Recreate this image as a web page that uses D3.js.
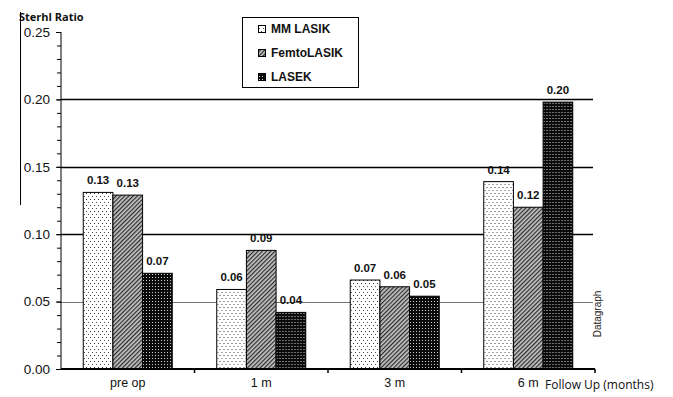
<!DOCTYPE html>
<html>
<head>
<meta charset="utf-8">
<script src="https://cdn.jsdelivr.net/npm/d3@7/dist/d3.min.js"></script>
<style>
  html, body { margin: 0; padding: 0; background: #fff; }
  svg { display: block; }
</style>
</head>
<body>
<svg id="chart" width="673" height="397"></svg>
<script>
// Follow-up time points
const categories = ["pre op", "1 m", "3 m", "6 m"];
// Treatment groups
const series = ["MM LASIK", "FemtoLASIK", "LASEK"];
// Mean Strehl ratio per group at each time point
const mmLasik    = [0.131, 0.059, 0.066, 0.139];
const femtoLasik = [0.129, 0.088, 0.061, 0.120];
const lasek      = [0.071, 0.042, 0.054, 0.198];
const seriesValues = [mmLasik, femtoLasik, lasek];
// Y axis ticks
const majorTicks = [0.00, 0.05, 0.10, 0.15, 0.20, 0.25];
const minorTicks = d3.range(0, 26).map(i => i / 100);
const gridTicks = [0.05, 0.10, 0.15, 0.20];

const svg = d3.select("#chart");
const plotLeft = 61, plotRight = 595, plotTop = 32, plotBottom = 369;

const y = d3.scaleLinear().domain([0, 0.25]).range([plotBottom, plotTop]);
const x0 = d3.scaleBand().domain(categories).range([plotLeft, plotRight]).padding(0);
const x1 = d3.scaleBand().domain(series).range([0, x0.bandwidth()])
  .paddingInner(0).paddingOuter(0.75);

// Fill patterns
const defs = svg.append("defs");
// sparse dots on white
const pDots = defs.append("pattern").attr("id", "pat-mm")
  .attr("patternUnits", "userSpaceOnUse").attr("width", 4).attr("height", 6);
pDots.append("rect").attr("width", 4).attr("height", 6).attr("fill", "#fff");
pDots.append("rect").attr("x", 1).attr("y", 1).attr("width", 1).attr("height", 1).attr("fill", "#333");
pDots.append("rect").attr("x", 3).attr("y", 4).attr("width", 1).attr("height", 1).attr("fill", "#555");
// diagonal hatching
const pHatch = defs.append("pattern").attr("id", "pat-femto")
  .attr("patternUnits", "userSpaceOnUse").attr("width", 3).attr("height", 3)
  .attr("patternTransform", "rotate(45)");
pHatch.append("rect").attr("width", 3).attr("height", 3).attr("fill", "#c4c4c4");
pHatch.append("rect").attr("width", 1.2).attr("height", 3).attr("fill", "#2a2a2a");
// dense white dots on black
const pDense = defs.append("pattern").attr("id", "pat-lasek")
  .attr("patternUnits", "userSpaceOnUse").attr("width", 3).attr("height", 3);
pDense.append("rect").attr("width", 3).attr("height", 3).attr("fill", "#0a0a0a");
pDense.append("rect").attr("x", 1).attr("y", 1).attr("width", 1).attr("height", 1).attr("fill", "#d0d0d0");
const fills = ["url(#pat-mm)", "url(#pat-femto)", "url(#pat-lasek)"];

// Gridlines
svg.append("g").selectAll("line").data(gridTicks).join("line")
  .attr("x1", plotLeft).attr("x2", plotRight - 2)
  .attr("y1", d => Math.round(y(d)) + 0.5).attr("y2", d => Math.round(y(d)) + 0.5)
  .attr("stroke", d => d === 0.05 ? "#777" : "#000")
  .attr("stroke-width", d => d === 0.05 ? 1 : 1.4);

// Bars
const rows = categories.map((c, i) => ({ cat: c, vals: series.map((s, j) => ({ s, j, v: seriesValues[j][i] })) }));
const groups = svg.append("g").selectAll("g").data(rows).join("g")
  .attr("transform", d => `translate(${x0(d.cat)},0)`);
groups.selectAll("rect").data(d => d.vals).join("rect")
  .attr("x", d => x1(d.s))
  .attr("y", d => y(d.v))
  .attr("width", x1.bandwidth())
  .attr("height", d => plotBottom - y(d.v))
  .attr("fill", d => fills[d.j])
  .attr("stroke", "#000").attr("stroke-width", 1);
groups.selectAll("text").data(d => d.vals).join("text")
  .attr("x", d => x1(d.s) + x1.bandwidth() / 2)
  .attr("y", d => y(d.v) - 8)
  .attr("text-anchor", "middle")
  .attr("font-family", "Liberation Sans, Arial, sans-serif")
  .attr("font-weight", "bold").attr("font-size", 11.5)
  .attr("fill", "#111")
  .text(d => d3.format(".2f")(d.v));

// Y axis
const yAxis = d3.axisLeft(y).tickValues(majorTicks).tickFormat(d3.format(".2f")).tickSize(5).tickPadding(6);
const gy = svg.append("g").attr("transform", `translate(${plotLeft},0)`).call(yAxis);
gy.selectAll("text").attr("font-family", "Liberation Sans, Arial, sans-serif").attr("font-size", 13.5).attr("fill", "#111");
gy.selectAll("line").attr("stroke", "#000");
gy.select(".domain").attr("stroke", "#000").attr("d", `M0,${plotTop}V${plotBottom}`);
const yMinor = d3.axisLeft(y).tickValues(minorTicks).tickFormat("").tickSize(4);
const gm = svg.append("g").attr("transform", `translate(${plotLeft},0)`).call(yMinor);
gm.select(".domain").remove();
gm.selectAll("line").attr("stroke", "#000");

// X axis
const xAxis = d3.axisBottom(x0).tickSize(0).tickPadding(9);
const gx = svg.append("g").attr("transform", `translate(0,${plotBottom})`).call(xAxis);
gx.select(".domain").attr("stroke", "#000").attr("stroke-width", 2).attr("d", `M${plotLeft},0H${plotRight}`);
gx.selectAll("text").attr("font-family", "Liberation Sans, Arial, sans-serif").attr("font-size", 12.5).attr("fill", "#111");
// separators between time points
svg.append("g").selectAll("line").data(categories).join("line")
  .attr("x1", d => x0(d) + x0.bandwidth()).attr("x2", d => x0(d) + x0.bandwidth())
  .attr("y1", plotBottom).attr("y2", plotBottom + 4)
  .attr("stroke", "#000").attr("stroke-width", 1.5);

// Axis titles
svg.append("text").attr("x", 19).attr("y", 21)
  .attr("font-family", "Open Sans, sans-serif").attr("font-weight", "bold").attr("font-size", 11)
  .attr("fill", "#111").text("Sterhl Ratio");
svg.append("line").attr("x1", 20.5).attr("x2", 20.5).attr("y1", 12).attr("y2", 205)
  .attr("stroke", "#000").attr("stroke-width", 1);
svg.append("text").attr("x", 545).attr("y", 389)
  .attr("font-family", "Open Sans, sans-serif").attr("font-size", 12)
  .attr("fill", "#111").text("Follow Up (months)");
svg.append("text").attr("transform", "translate(601,314) rotate(-90)")
  .attr("text-anchor", "middle")
  .attr("font-family", "Liberation Sans, Arial, sans-serif").attr("font-size", 10)
  .attr("fill", "#222").text("Datagraph");

// Legend
const lg = svg.append("g");
lg.append("rect").attr("x", 242.5).attr("y", 17.5).attr("width", 116).attr("height", 70)
  .attr("fill", "#fff").attr("stroke", "#000").attr("stroke-width", 1);
series.forEach((s, j) => {
  const cy = 29 + j * 24;
  lg.append("rect").attr("x", 258.5).attr("y", cy - 3.5).attr("width", 7).attr("height", 7)
    .attr("fill", fills[j]).attr("stroke", "#000").attr("stroke-width", 1);
  lg.append("text").attr("x", 271).attr("y", cy).attr("dy", "0.36em")
    .attr("font-family", "Liberation Sans, Arial, sans-serif").attr("font-weight", "bold").attr("font-size", 12)
    .attr("fill", "#111").text(s);
});
</script>
</body>
</html>
